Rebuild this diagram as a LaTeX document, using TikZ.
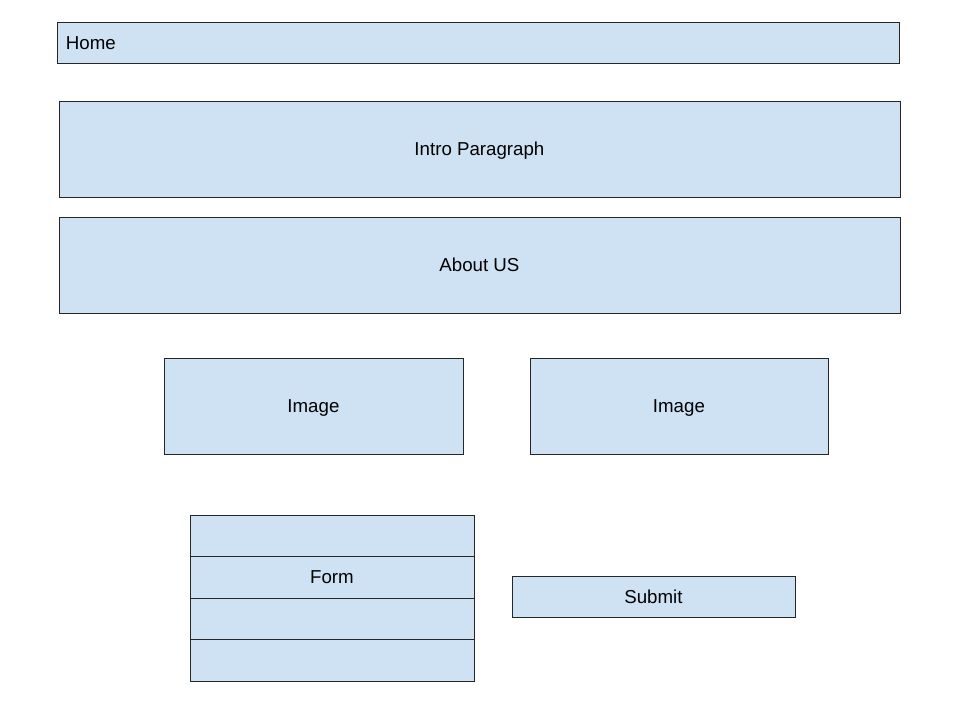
\documentclass[tikz,border=0pt]{standalone}
\usepackage{fontspec}
\setmainfont{Liberation Sans}
\definecolor{boxblue}{HTML}{CFE2F3}
\tikzset{
  box/.style={draw=black!85, fill=boxblue, line width=0.9pt, inner sep=0pt,
    anchor=north west, text height=13.4pt, text depth=0pt,
    font=\fontsize{18.7}{22}\selectfont},
}
\begin{document}
\begin{tikzpicture}[x=1pt, y=-1pt]
\useasboundingbox (0,0) rectangle (954,704);
\fill[white] (0,0) rectangle (954,704);
%
\node[box, minimum width=842, minimum height=41, text width=824, inner xsep=9pt, align=left] (home) at (56.5,21.5) {Home};
%
\node[box, minimum width=841, minimum height=96] (intro) at (58.5,100.5) {Intro Paragraph};
\node[box, minimum width=841, minimum height=96] (about) at (58.5,216.5) {About US};
%
\node[box, minimum width=299, minimum height=96] (imgleft)  at (163.5,357.5) {Image};
\node[box, minimum width=298, minimum height=96] (imgright) at (529.5,357.5) {Image};
%
\foreach \i/\t in {1/, 2/Form, 3/, 4/}
  \node[box, minimum width=284, minimum height=41.5] (form\i) at (189.5,{514.5+41.5*(\i-1)}) {\t};
%
\node[box, minimum width=283, minimum height=41] (submit) at (511.5,575.5) {Submit};
\end{tikzpicture}
\end{document}
